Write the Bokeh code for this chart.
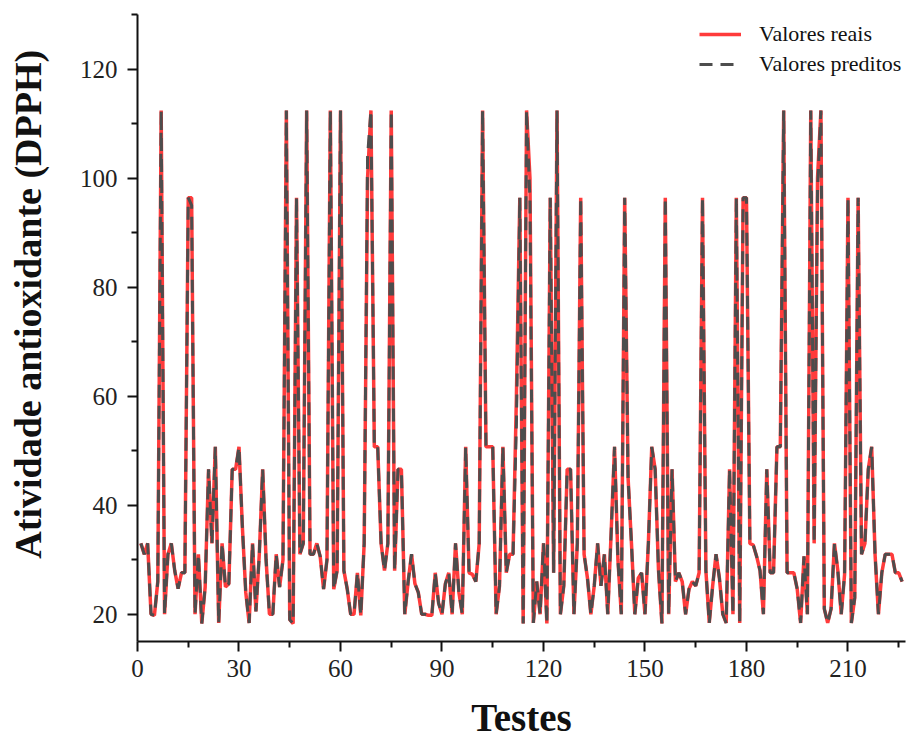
from bokeh.plotting import figure
from bokeh.models import Range1d, FixedTicker, Legend, LegendItem, ColumnDataSource
from bokeh.embed import file_html
from bokeh.resources import INLINE

# Test index
testes = list(range(1, 227))

# Real values (Valores reais)
valores_reais = [
    33, 31, 33, 20, 19.8, 26, 112.4, 20, 31, 33,
    28, 24.7, 27.6, 27.6, 96.4, 96.4, 20, 31, 18.3, 25,
    46.6, 33, 50.7, 18.4, 33, 25, 25.6, 46.6, 46.6, 50.7,
    36, 24, 18.4, 33, 20.5, 31, 46.6, 30, 20, 20,
    31, 25, 30, 112.4, 19, 18.3, 96.4, 31, 33, 112.4,
    31, 31, 33, 30.6, 24.6, 30, 112.4, 24.6, 28, 112.4,
    28, 24.6, 20, 20, 27.6, 19.8, 33, 100, 112.4, 50.7,
    50.7, 33, 28, 33, 112.4, 28, 46.6, 46.6, 20, 26,
    31, 25.6, 24, 20, 20, 19.8, 19.8, 27.6, 22, 20,
    25.6, 27.6, 20, 33, 24, 20, 50.7, 27.6, 27.3, 26,
    33, 112.4, 50.7, 50.7, 50.7, 20, 25.2, 50.7, 27.6, 31,
    31, 60, 96.4, 18.3, 112.4, 100, 18.4, 26, 20, 33,
    18.3, 96.4, 27.6, 112.4, 20, 25.2, 46.6, 46.6, 20, 33,
    96.4, 31, 26.6, 20, 25.2, 33, 25.2, 31, 20, 35,
    50.7, 30, 20, 96.4, 45, 33, 20, 26.6, 27.6, 20,
    33, 50.7, 46.6, 28, 18.3, 96.4, 20, 46.6, 26, 27.6,
    26, 20, 24.6, 26, 25.2, 27.6, 96.4, 28, 18.4, 25.2,
    31, 26.6, 20, 18.4, 46.6, 20, 96.4, 18.4, 96.4, 96.4,
    33, 32.7, 30.6, 28, 20, 46.6, 27.6, 27.6, 50.7, 50.7,
    112.4, 27.6, 27.6, 27.6, 24.6, 18.4, 30.6, 20, 112.4, 33,
    100, 112.4, 21, 18.4, 21, 33, 28, 20, 27.3, 96.4,
    18.4, 23, 96.4, 31, 33, 46.6, 50.7, 31, 20, 27.6,
    31, 31, 31, 27.6, 27.6, 26,
]

# Predicted values (Valores preditos)
valores_preditos = [
    33, 31, 33, 20, 19.8, 26, 112.4, 20, 31, 33,
    28, 24.7, 27.6, 27.6, 96.4, 95, 20, 31, 18.3, 25,
    46.6, 33, 50.7, 18.4, 33, 25, 25.6, 46.6, 46.6, 50.7,
    36, 24, 18.4, 33, 20.5, 31, 46.6, 30, 20, 20,
    31, 25, 30, 112.4, 19, 18.3, 96.4, 31, 33, 112.4,
    31, 31, 33, 30.6, 24.6, 30, 112.4, 24.6, 28, 112.4,
    28, 24.6, 20, 20, 27.6, 19.8, 33, 104, 112.4, 50.7,
    50.7, 33, 28, 33, 112.4, 28, 46.6, 46.6, 20, 26,
    31, 25.6, 24, 20, 20, 19.8, 19.8, 27.6, 22, 20,
    25.6, 27.6, 20, 33, 24, 20, 50.7, 27.6, 27.3, 26,
    33, 112.4, 50.7, 50.7, 50.7, 20, 25.2, 50.7, 27.6, 31,
    31, 55, 96.4, 18.3, 112.4, 96, 18.4, 26, 20, 33,
    18.3, 96.4, 27.6, 112.4, 20, 25.2, 46.6, 46.6, 20, 33,
    96.4, 31, 26.6, 20, 25.2, 33, 25.2, 31, 20, 35,
    50.7, 30, 20, 96.4, 45, 33, 20, 26.6, 27.6, 20,
    33, 50.7, 46.6, 28, 18.3, 96.4, 20, 46.6, 26, 27.6,
    26, 20, 24.6, 26, 25.2, 27.6, 96.4, 28, 18.4, 25.2,
    31, 26.6, 20, 18.4, 46.6, 20, 96.4, 18.4, 96.4, 96.4,
    33, 32.7, 30.6, 28, 20, 46.6, 27.6, 27.6, 50.7, 50.7,
    112.4, 27.6, 27.6, 27.6, 24.6, 18.4, 30.6, 20, 112.4, 33,
    98, 112.4, 21, 18.4, 21, 33, 28, 20, 27.3, 96.4,
    18.4, 23, 96.4, 31, 33, 46.6, 50.7, 31, 20, 27.6,
    31, 31, 31, 27.6, 27.6, 26,
]

x_ticks = [0, 30, 60, 90, 120, 150, 180, 210]
y_ticks = [20, 40, 60, 80, 100, 120]

SERIF = "Liberation Serif"

p = figure(width=906, height=742, output_backend="svg", toolbar_location=None,
           x_range=Range1d(0, 227), y_range=Range1d(15, 130))
p.min_border_left = 137
p.min_border_right = 1
p.min_border_top = 14
p.min_border_bottom = 101
p.outline_line_color = None
p.xgrid.visible = False
p.ygrid.visible = False
p.background_fill_color = "white"
p.border_fill_color = "white"

src = ColumnDataSource(dict(x=testes, real=valores_reais, pred=valores_preditos))
r1 = p.line("x", "real", source=src, line_color="#FF3B3B", line_width=3.5)
r2 = p.line("x", "pred", source=src, line_color="#4D4D4D", line_width=3, line_dash="13 8")

p.xaxis.ticker = FixedTicker(ticks=x_ticks, minor_ticks=[15, 45, 75, 105, 135, 165, 195, 225])
p.yaxis.ticker = FixedTicker(ticks=y_ticks, minor_ticks=[30, 50, 70, 90, 110, 130])

for ax in (p.xaxis[0], p.yaxis[0]):
    ax.axis_line_color = "#111111"
    ax.axis_line_width = 2
    ax.major_tick_line_color = "#111111"
    ax.major_tick_line_width = 2
    ax.minor_tick_line_color = "#111111"
    ax.minor_tick_line_width = 2
    ax.major_tick_out = 10
    ax.major_tick_in = 0
    ax.minor_tick_out = 6
    ax.minor_tick_in = 0
    ax.major_label_text_font = SERIF
    ax.major_label_text_font_size = "25px"
    ax.major_label_text_color = "#222222"
    ax.axis_label_text_font = SERIF
    ax.axis_label_text_font_style = "bold"
    ax.axis_label_text_color = "#111111"

p.xaxis.axis_label = "Testes"
p.xaxis.axis_label_text_font_size = "39px"
p.xaxis.major_label_standoff = 8
p.xaxis.axis_label_standoff = 16

p.yaxis.axis_label = "\u00a0" * 5 + "Atividade antioxidante (DPPH)"
p.yaxis.axis_label_text_font_size = "38px"
p.yaxis.major_label_standoff = 10
p.yaxis.axis_label_standoff = 28

legend = Legend(items=[LegendItem(label="Valores reais", renderers=[r1]),
                       LegendItem(label="Valores preditos", renderers=[r2])],
                location=(558, 560))
legend.border_line_alpha = 0
legend.background_fill_alpha = 0
legend.label_text_font = SERIF
legend.label_text_font_size = "22px"
legend.label_text_color = "#111111"
legend.glyph_width = 42
legend.glyph_height = 24
legend.label_height = 24
legend.label_standoff = 18
legend.spacing = 4
legend.padding = 4
legend.margin = 0
p.add_layout(legend)

open("out.html", "w").write(file_html(p, INLINE))
